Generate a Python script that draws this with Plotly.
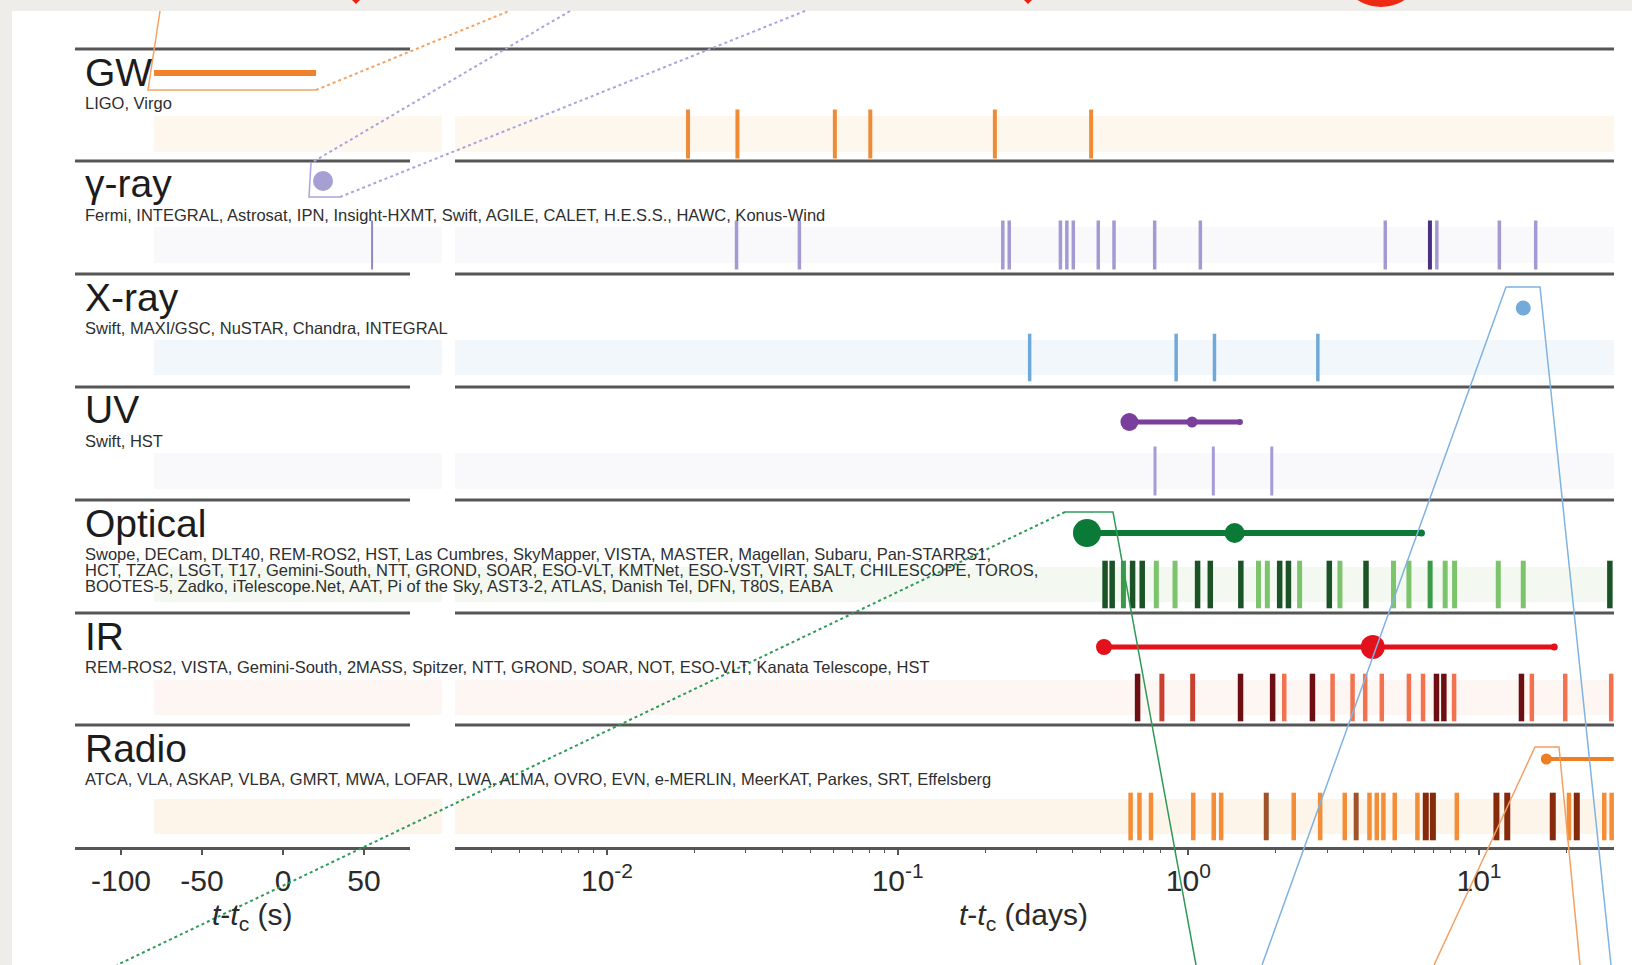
import plotly.graph_objects as go

W, H = 1632, 965

# ------------------------------------------------------------------ data
ROW_LABELS = ["GW", "γ-ray", "X-ray", "UV", "Optical", "IR", "Radio"]
ROW_INSTRUMENTS = [
    ["LIGO, Virgo"],
    ["Fermi, INTEGRAL, Astrosat, IPN, Insight-HXMT, Swift, AGILE, CALET, H.E.S.S., HAWC, Konus-Wind"],
    ["Swift, MAXI/GSC, NuSTAR, Chandra, INTEGRAL"],
    ["Swift, HST"],
    ["Swope, DECam, DLT40, REM-ROS2, HST, Las Cumbres, SkyMapper, VISTA, MASTER, Magellan, Subaru, Pan-STARRS1,",
     "HCT, TZAC, LSGT, T17, Gemini-South, NTT, GROND, SOAR, ESO-VLT, KMTNet, ESO-VST, VIRT, SALT, CHILESCOPE, TOROS,",
     "BOOTES-5, Zadko, iTelescope.Net, AAT, Pi of the Sky, AST3-2, ATLAS, Danish Tel, DFN, T80S, EABA"],
    ["REM-ROS2, VISTA, Gemini-South, 2MASS, Spitzer, NTT, GROND, SOAR, NOT, ESO-VLT, Kanata Telescope, HST"],
    ["ATCA, VLA, ASKAP, VLBA, GMRT, MWA, LOFAR, LWA, ALMA, OVRO, EVN, e-MERLIN, MeerKAT, Parkes, SRT, Effelsberg"],
]

sec_tickvals = [-100, -50, 0, 50]
sec_ticktext = ["-100", "-50", "0", "50"]
day_tickvals = [0.01, 0.1, 1, 10]
day_ticktext = ["10<sup>-2</sup>", "10<sup>-1</sup>", "10<sup>0</sup>", "10<sup>1</sup>"]
day_minor_vals = [0.004, 0.005, 0.006, 0.007, 0.008, 0.009,
                  0.02, 0.03, 0.04, 0.05, 0.06, 0.07, 0.08, 0.09,
                  0.2, 0.3, 0.4, 0.5, 0.6, 0.7, 0.8, 0.9,
                  2, 3, 4, 5, 6, 7, 8, 9, 20]

# observation ticks (days after merger unless noted)
gw_obs_days = [0.0190, 0.0281, 0.0608, 0.0805, 0.216, 0.463]
gamma_obs_seconds = [55]
gamma_obs_days = [0.0279, 0.0459, 0.230, 0.242, 0.363, 0.382, 0.402, 0.490,
                  0.555, 0.766, 1.10, 4.76, 7.16, 11.75, 15.67]
gamma_obs_days_dark = [6.78]
xray_obs_days = [0.2845, 0.908, 1.23, 2.79]
uv_obs_days = [0.768, 1.219, 1.937]
optical_obs_dark = [0.517, 0.547, 0.643, 0.694, 1.076, 1.19, 1.516, 2.062, 2.21, 3.055, 4.086, 28.2]
optical_obs_mid = [0.598, 6.79]
optical_obs_light = [0.776, 0.90, 1.743, 1.87, 2.415, 3.323, 5.08, 5.74, 7.65, 8.24, 11.65, 14.2]
ir_obs_dark = [0.669, 1.512, 1.95, 2.673, 7.14, 7.57, 14.0]
ir_obs_mid = [0.811, 1.035]
ir_obs_light = [2.138, 3.135, 3.673, 4.06, 4.63, 5.74, 6.42, 8.21, 15.2, 19.8, 28.5]
radio_obs_light = [0.633, 0.679, 0.744, 1.04, 1.223, 1.297, 2.305, 2.842, 3.453, 4.20,
                   4.45, 4.69, 5.13, 6.14, 8.39, 20.4, 26.97, 28.6]
radio_obs_brown = [1.854, 3.78]
radio_obs_dark = [6.56, 6.94, 11.48, 12.51, 17.94, 21.7]

# first detections / detection spans
gw_signal_seconds = [-79.6, 20.4]
grb_seconds = [24.7]
xray_detection_days = [14.2]
uv_detection_days = [0.627, 1.03]
uv_span_end_days = 1.505
optical_detection_days = [0.448, 1.443]
optical_span_end_days = 6.34
ir_detection_days = [0.5126, 4.31]
ir_span_end_days = 18.15
radio_detection_days = [17.05]
radio_span_end_days = 29.1

# ------------------------------------------------------------------ layout constants
XL_RANGE = [-128.4, 78.4]
XR_LOG = [-2.523, 1.4645]
XL_PX = [75, 410]
XR_PX = [455, 1614]
ROW_TOP = [49, 161, 274, 387, 500, 613, 725]
AXIS_Y = 848
BAND_OFF = [(67, 103), (66, 102), (66, 101), (66, 102), (67, 102), (67, 102), (74, 109)]
BAND_FILL = ["#fdf7ee", "#f9f9fb", "#f2f7fc", "#f9f9fb", "#f3f9f1", "#fdf6f3", "#fdf5ea"]

FONT = "Liberation Sans, Arial, Helvetica, sans-serif"


def px(x):
    return x / W


def py(y):
    return 1 - y / H


def band_center(i):
    a, b = BAND_OFF[i]
    return ROW_TOP[i] + (a + b) / 2


def band_len(i):
    a, b = BAND_OFF[i]
    return b - a - 1


fig = go.Figure()


def ticks(xs, row, color, width, axis="x2"):
    fig.add_trace(go.Scatter(
        x=xs, y=[band_center(row)] * len(xs), xaxis=axis, yaxis="y",
        mode="markers", hoverinfo="skip", showlegend=False,
        marker=dict(symbol="line-ns", size=band_len(row), opacity=1,
                    line=dict(color=color, width=width))))


def span(xs, y, color, width, axis="x2"):
    fig.add_trace(go.Scatter(x=xs, y=[y] * len(xs), xaxis=axis, yaxis="y",
                             mode="lines", hoverinfo="skip", showlegend=False,
                             line=dict(color=color, width=width)))


def dots(xs, y, color, sizes, axis="x2"):
    fig.add_trace(go.Scatter(x=xs, y=[y] * len(xs), xaxis=axis, yaxis="y",
                             mode="markers", hoverinfo="skip", showlegend=False,
                             marker=dict(color=color, size=sizes, opacity=1, line=dict(width=0))))


# observation ticks
ticks(gw_obs_days, 0, "#f08a35", 4)
ticks(gamma_obs_seconds, 1, "#8e87c8", 2, axis="x")
ticks(gamma_obs_days, 1, "#a29bd3", 3.5)
ticks(gamma_obs_days_dark, 1, "#4b2f80", 4)
ticks(xray_obs_days, 2, "#6ea9d9", 3.5)
ticks(uv_obs_days, 3, "#a49dd5", 3)
ticks(optical_obs_light, 4, "#7cc46b", 5)
ticks(optical_obs_mid, 4, "#3a9a48", 5)
ticks(optical_obs_dark, 4, "#1b5326", 5.5)
ticks(ir_obs_light, 5, "#f2724f", 4.5)
ticks(ir_obs_mid, 5, "#c8402e", 5)
ticks(ir_obs_dark, 5, "#6d0f12", 5.5)
ticks(radio_obs_light, 6, "#f38d37", 4.5)
ticks(radio_obs_brown, 6, "#a0532a", 5)
ticks(radio_obs_dark, 6, "#852b0b", 6)

# detections
span(gw_signal_seconds, 73, "#f0822c", 6, axis="x")
dots(grb_seconds, 181, "#a69fd4", 20, axis="x")
dots(xray_detection_days, 308, "#74aad9", 15)
span([uv_detection_days[0], uv_span_end_days], 422, "#7a3e9d", 5)
dots([uv_detection_days[0], uv_detection_days[1], uv_span_end_days], 422, "#7a3e9d", [18, 11, 6])
span([optical_detection_days[0], optical_span_end_days], 533, "#0b7a37", 6)
dots([optical_detection_days[0], optical_detection_days[1], optical_span_end_days], 533, "#0b7a37", [28, 20, 7])
span([ir_detection_days[0], ir_span_end_days], 647, "#e3111b", 5)
dots([ir_detection_days[0], ir_detection_days[1], ir_span_end_days], 647, "#e3111b", [16, 24, 7])
span([radio_detection_days[0], radio_span_end_days], 759, "#ef7d22", 4)
dots(radio_detection_days, 759, "#ef7d22", 11)

# ------------------------------------------------------------------ shapes
shapes = []
# white panel
shapes.append(dict(type="rect", xref="paper", yref="paper", x0=px(12), x1=px(W + 5),
                   y0=py(H + 5), y1=py(11), fillcolor="white", line=dict(width=0), layer="below"))
# bands
for i, t in enumerate(ROW_TOP):
    a, b = BAND_OFF[i]
    for x0, x1 in [(154, 442), (455, 1614)]:
        shapes.append(dict(type="rect", xref="paper", yref="paper", x0=px(x0), x1=px(x1),
                           y0=py(t + b), y1=py(t + a), fillcolor=BAND_FILL[i],
                           line=dict(width=0), layer="below"))
# separators
for t in ROW_TOP:
    for x0, x1 in [XL_PX, XR_PX]:
        shapes.append(dict(type="line", xref="paper", yref="paper", x0=px(x0), x1=px(x1),
                           y0=py(t), y1=py(t), line=dict(color="#565656", width=3)))


def poly(points, color, dash="solid", width=1.5):
    d = "M " + " L ".join(f"{px(x)},{py(y)}" for x, y in points)
    shapes.append(dict(type="path", xref="paper", yref="paper", path=d,
                       line=dict(color=color, width=width, dash=dash)))


# zoom connectors toward neighbouring panels
poly([(160, 11), (148, 90), (316, 90)], "#f4a261")
poly([(316, 90), (509, 11)], "#f4a261", "dot", 2)
poly([(311, 163), (309, 197), (340, 197)], "#aaa4dc")
poly([(570, 11), (311, 163)], "#aaa4dc", "dot", 2)
poly([(340, 197), (805, 11)], "#aaa4dc", "dot", 2)
poly([(1065, 512), (1113, 512), (1196, 965)], "#2e9a57")
poly([(1065, 512), (117, 965)], "#2e9a57", "dot", 2)
poly([(1262, 965), (1506, 287), (1540, 287), (1611, 965)], "#7fb3e2")
poly([(1434, 965), (1535, 747), (1559, 747), (1580, 965)], "#f2a063")

# cut-off red marks along the top edge
shapes.append(dict(type="circle", xref="paper", yref="paper", x0=px(1338), x1=px(1424),
                   y0=py(7), y1=py(-79), fillcolor="#ee2a12", line=dict(width=0)))
for cx in (356, 1028):
    shapes.append(dict(type="path", xref="paper", yref="paper",
                       path=f"M {px(cx-4)},{py(0)} L {px(cx+4)},{py(0)} L {px(cx)},{py(4)} Z",
                       fillcolor="#e8220f", line=dict(width=0)))

# ------------------------------------------------------------------ annotations
ann = []
for i, t in enumerate(ROW_TOP):
    ann.append(dict(text=ROW_LABELS[i], x=px(83), y=py(t + 23), xref="paper", yref="paper",
                    xanchor="left", yanchor="middle", showarrow=False,
                    font=dict(family=FONT, size=39, color="#1c1c1c")))
    for j, line in enumerate(ROW_INSTRUMENTS[i]):
        ann.append(dict(text=line, x=px(83), y=py(t + 54 + 16 * j), xref="paper", yref="paper",
                        xanchor="left", yanchor="middle", showarrow=False,
                        font=dict(family=FONT, size=16.5, color="#2e2e2e")))

ann.append(dict(text="<i>t</i>-<i>t</i><sub>c</sub> (s)", x=px(252), y=py(916),
                xref="paper", yref="paper", showarrow=False, xanchor="center", yanchor="middle",
                font=dict(family=FONT, size=30, color="#2a2a2a")))
ann.append(dict(text="<i>t</i>-<i>t</i><sub>c</sub> (days)", x=px(1023), y=py(916),
                xref="paper", yref="paper", showarrow=False, xanchor="center", yanchor="middle",
                font=dict(family=FONT, size=30, color="#2a2a2a")))

axis_common = dict(showgrid=False, zeroline=False, showline=True, linecolor="#555555",
                   linewidth=3, ticks="outside", ticklen=5, tickwidth=1.5, tickcolor="#555555",
                   tickfont=dict(family=FONT, size=30, color="#2a2a2a"),
                   anchor="free", position=py(AXIS_Y), fixedrange=True)

fig.update_layout(
    width=W, height=H,
    margin=dict(l=0, r=0, t=0, b=0),
    paper_bgcolor="#eeede9",
    plot_bgcolor="rgba(0,0,0,0)",
    showlegend=False,
    xaxis=dict(range=XL_RANGE, domain=[px(XL_PX[0]), px(XL_PX[1])],
               tickmode="array", tickvals=sec_tickvals, ticktext=sec_ticktext, **axis_common),
    xaxis2=dict(type="log", range=XR_LOG, domain=[px(XR_PX[0]), px(XR_PX[1])],
                tickmode="array", tickvals=day_tickvals, ticktext=day_ticktext,
                minor=dict(tickmode="array", tickvals=day_minor_vals, ticks="outside",
                           ticklen=3, tickwidth=1, tickcolor="#555555"),
                **axis_common),
    yaxis=dict(range=[H, 0], domain=[0, 1], visible=False, fixedrange=True),
    shapes=shapes,
    annotations=ann,
)

fig.write_html("out.html", config={"displayModeBar": False},
               post_script="document.body.style.margin='0px';document.body.style.overflow='hidden';")
